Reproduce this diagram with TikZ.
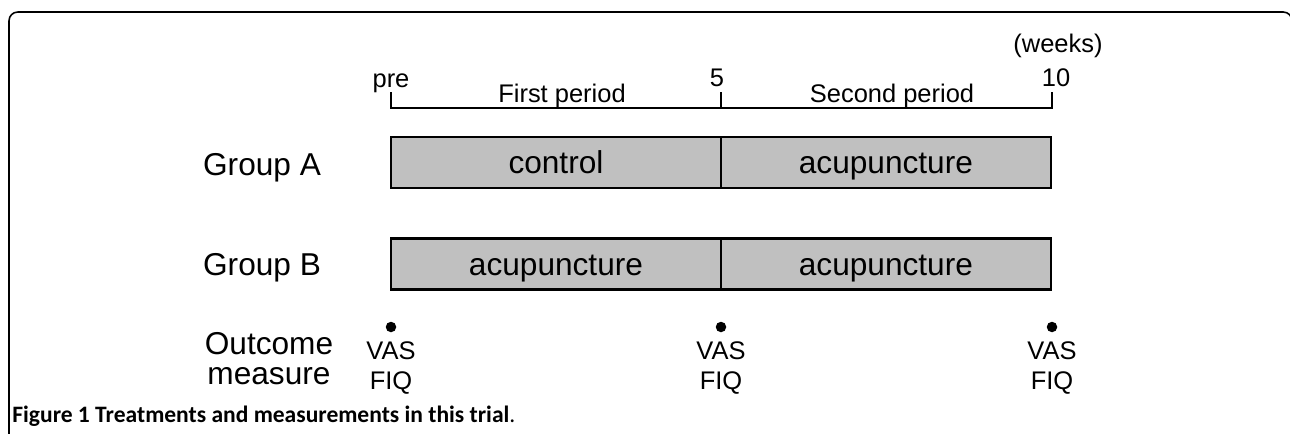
\documentclass[tikz,border=0pt]{standalone}
\usepackage{fontspec}
\setmainfont{Liberation Sans}
\newfontfamily\capfont{Carlito}
\usepackage{tikz}
\usetikzlibrary{positioning}
\definecolor{boxgray}{RGB}{192,192,192}
\tikzstyle{period} = [rectangle, minimum width=6.6cm, minimum height=1.02cm, outer sep=0pt, text height=12.9pt, text depth=0pt, text centered, draw=black, fill=boxgray, line width=1.4pt, font=\fontsize{18}{18}\selectfont]
\tikzstyle{group} = [align=center, font=\fontsize{18}{17}\selectfont]
\tikzstyle{tick} = [align=center, font=\fontsize{14.5}{17}\selectfont]
\tikzstyle{measure} = [circle, fill=black, inner sep=0pt, minimum size=0.21cm]
\tikzstyle{axis} = [line width=1.4pt]

\begin{document}
\begin{tikzpicture}[x=0.02cm, y=-0.02cm, node distance=1.5pt]
\useasboundingbox (0,0) rectangle (1290,433);
\draw [line width=0.9pt, rounded corners=5pt] (9,445) -- (9,12) -- (1292,12) -- (1292,60);

\coordinate (t0) at (391,108);
\coordinate (t5) at (721,108);
\coordinate (t10) at (1052,108);
\draw [axis] (t0) ++(0,-16) -- (t0) -- (t10) -- ++(0,-16);
\draw [axis] (t5) -- ++(0,-16);

\node (pre) [tick, anchor=base] at (391,87) {pre};
\node (wk5) [tick, anchor=base] at (717,86) {5};
\node (wk10) [tick, anchor=base] at (1056,86) {10};
\node (weeks) [tick, anchor=base] at (1058,52) {(weeks)};
\node (first) [tick, anchor=base] at (562,102) {First period};
\node (second) [tick, anchor=base] at (892,102) {Second period};

\node (ctlA) [period, anchor=west] at (391,162.5) {control};
\node (acuA) [period, right=0pt of ctlA] {acupuncture};
\node (acuB1) [period, anchor=west] at (391,264) {acupuncture};
\node (acuB2) [period, right=0pt of acuB1] {acupuncture};

\node (grpA) [group, anchor=base] at (262,175) {Group A};
\node (grpB) [group, anchor=base] at (262,275) {Group B};
\node (outc) [group] at (269,359) {Outcome\\measure};

\node (m0) [measure] at (391,327) {};
\node (m5) [measure] at (721,327) {};
\node (m10) [measure] at (1052,327) {};
\node (vas0) [tick, below=of m0] {VAS\\FIQ};
\node (vas5) [tick, below=of m5] {VAS\\FIQ};
\node (vas10) [tick, below=of m10] {VAS\\FIQ};

\node (cap) [anchor=base west, inner sep=0pt] at (12,422) {\capfont\fontsize{13.4}{13.4}\selectfont\bfseries Figure 1 Treatments and measurements in this trial\mdseries.};
\end{tikzpicture}
\end{document}
